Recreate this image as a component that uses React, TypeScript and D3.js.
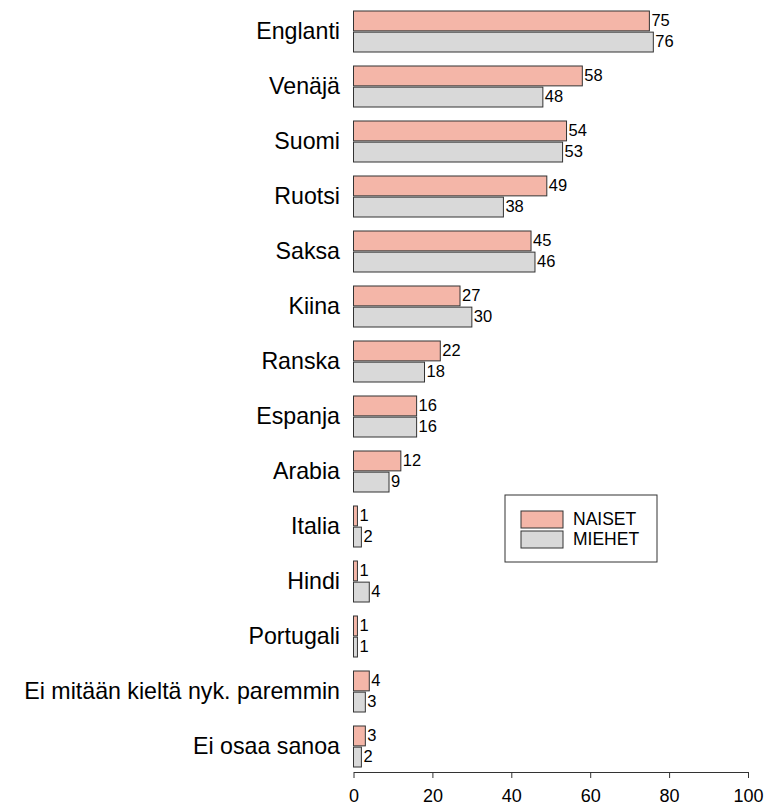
import * as d3 from 'd3';
import { useEffect, useRef } from 'react';

const categories = [
  'Englanti', 'Venäjä', 'Suomi', 'Ruotsi', 'Saksa', 'Kiina', 'Ranska',
  'Espanja', 'Arabia', 'Italia', 'Hindi', 'Portugali',
  'Ei mitään kieltä nyk. paremmin', 'Ei osaa sanoa',
];
const naiset = [75, 58, 54, 49, 45, 27, 22, 16, 12, 1, 1, 1, 4, 3];
const miehet = [76, 48, 53, 38, 46, 30, 18, 16, 9, 2, 4, 1, 3, 2];
const seriesNames = ['NAISET', 'MIEHET'];
const seriesColors = ['#f4b6a8', '#d9d9d9'];
const xTicks = [0, 20, 40, 60, 80, 100];

const W = 767;
const H = 807;

const App = () => {
  const ref = useRef<SVGSVGElement>(null);

  useEffect(() => {
    const svg = d3.select(ref.current);
    svg.selectAll('*').remove();
    const font = '"Liberation Sans", Arial, sans-serif';

    const x = d3.scaleLinear().domain([0, 100]).range([353.5, 748]);
    const y = d3.scaleBand().domain(categories).range([4, 774]).padding(0);
    const inner = d3.scaleBand().domain(seriesNames).range([7, 48]).paddingInner(0.06);

    const data = categories.map((c, i) => ({ cat: c, vals: [naiset[i], miehet[i]] }));

    const groups = svg
      .selectAll('.grp')
      .data(data)
      .enter()
      .append('g')
      .attr('class', 'grp')
      .attr('transform', (d) => 'translate(0,' + y(d.cat) + ')');

    groups
      .append('text')
      .attr('x', 340)
      .attr('y', y.bandwidth() / 2 + 1.5)
      .attr('text-anchor', 'end')
      .attr('dominant-baseline', 'middle')
      .style('font-family', font)
      .style('font-size', '23.2px')
      .text((d) => d.cat);

    seriesNames.forEach((s, si) => {
      groups
        .append('rect')
        .attr('x', x(0))
        .attr('y', inner(s) as number)
        .attr('width', (d) => x(d.vals[si]) - x(0))
        .attr('height', inner.bandwidth())
        .attr('fill', seriesColors[si])
        .attr('stroke', '#333')
        .attr('stroke-width', 1);

      groups
        .append('text')
        .attr('x', (d) => x(d.vals[si]) + 2)
        .attr('y', (inner(s) as number) + inner.bandwidth() / 2 + 1)
        .attr('dominant-baseline', 'middle')
        .style('font-family', font)
        .style('font-size', '16.5px')
        .text((d) => d.vals[si]);
    });

    const axis = svg
      .append('g')
      .attr('transform', 'translate(0,772)')
      .call(d3.axisBottom(x).tickValues(xTicks).tickSize(6).tickSizeOuter(0));
    axis.select('.domain').attr('stroke', '#333');
    axis.selectAll('line').attr('stroke', '#333');
    axis
      .selectAll('text')
      .style('font-family', font)
      .style('font-size', '18px')
      .attr('fill', '#000')
      .attr('y', 9)
      .attr('dy', '21px');

    const legend = svg.append('g').attr('transform', 'translate(505,495)');
    legend
      .append('rect')
      .attr('width', 152)
      .attr('height', 67)
      .attr('fill', '#fff')
      .attr('stroke', '#333');
    seriesNames.forEach((s, i) => {
      legend
        .append('rect')
        .attr('x', 16)
        .attr('y', 16 + i * 20)
        .attr('width', 42)
        .attr('height', 17)
        .attr('fill', seriesColors[i])
        .attr('stroke', '#333');
      legend
        .append('text')
        .attr('x', 68)
        .attr('y', 25 + i * 20)
        .attr('dominant-baseline', 'middle')
        .style('font-family', font)
        .style('font-size', '17.5px')
        .text(s);
    });
  }, []);

  return (
    <svg
      ref={ref}
      width={W}
      height={H}
      style={{ position: 'absolute', left: 0, top: 0, background: '#fff' }}
    />
  );
};

export default App;
